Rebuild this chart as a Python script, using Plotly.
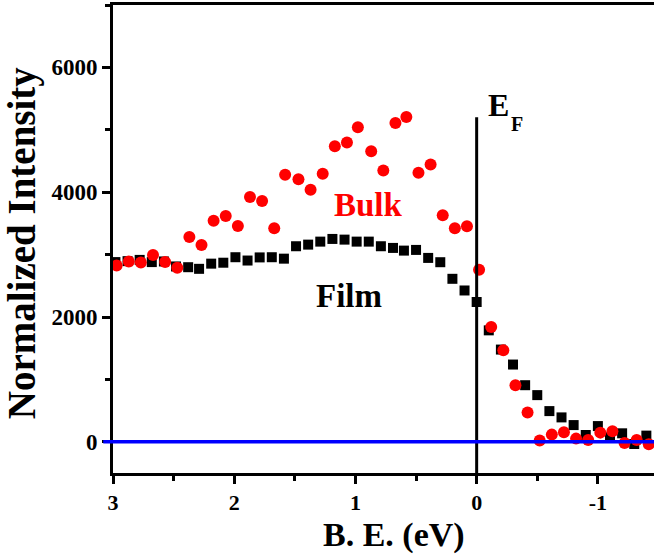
import plotly.graph_objects as go

# ---- data ----
film_x = [2.98, 2.88, 2.78, 2.68, 2.58, 2.48, 2.38, 2.29, 2.19, 2.09,
          1.99, 1.89, 1.79, 1.69, 1.59, 1.49, 1.39, 1.29, 1.19, 1.09,
          0.99, 0.89, 0.79, 0.69, 0.60, 0.50, 0.40, 0.30, 0.20, 0.10,
          0.00, -0.10, -0.20, -0.30, -0.40, -0.50, -0.60, -0.70, -0.80, -0.90,
          -1.00, -1.10, -1.20, -1.30, -1.40]
film_y = [2880, 2895, 2915, 2880, 2890, 2810, 2798, 2772, 2855, 2870,
          2958, 2905, 2955, 2958, 2935, 3134, 3160, 3208, 3251, 3240,
          3208, 3208, 3134, 3107, 3064, 3075, 2947, 2878, 2612, 2425,
          2240, 1786, 1478, 1238, 907, 748, 492, 391, 268, 109,
          252, 72, 136, -35, 99]

bulk_x = [2.97, 2.87, 2.77, 2.67, 2.57, 2.47, 2.37, 2.27, 2.17, 2.07,
          1.97, 1.87, 1.77, 1.67, 1.58, 1.47, 1.37, 1.27, 1.17, 1.07,
          0.98, 0.87, 0.77, 0.67, 0.58, 0.48, 0.38, 0.28, 0.18, 0.08,
          -0.02, -0.12, -0.22, -0.32, -0.42, -0.52, -0.62, -0.72, -0.82, -0.92,
          -1.02, -1.12, -1.22, -1.32, -1.42]
bulk_y = [2824, 2888, 2872, 2995, 2883, 2788, 3283, 3155, 3543, 3618,
          3458, 3922, 3858, 3422, 4280, 4209, 4039, 4294, 4736, 4795,
          5040, 4657, 4348, 5109, 5204, 4310, 4444, 3629, 3422, 3454,
          2756, 1840, 1466, 907, 471, 19, 115, 152, 51, 29,
          147, 168, -19, 29, -40]

x_ticks = [3, 2, 1, 0, -1]
y_ticks = [0, 2000, 4000, 6000]
ef_top = 5200

FONT = "Liberation Serif"

fig = go.Figure()
fig.add_trace(go.Scatter(x=film_x, y=film_y, mode="markers", name="Film",
                         marker=dict(symbol="square", size=10, color="black"),
                         cliponaxis=False))
fig.add_trace(go.Scatter(x=bulk_x, y=bulk_y, mode="markers", name="Bulk",
                         marker=dict(symbol="circle", size=12, color="#ff0000"),
                         cliponaxis=False))

# Fermi level line and zero line
fig.add_shape(type="line", x0=0, x1=0, y0=-500, y1=ef_top, xref="x", yref="y",
              line=dict(color="black", width=3))
fig.add_shape(type="line", x0=-0.018, x1=1, y0=0, y1=0, xref="paper", yref="y",
              line=dict(color="#0000ff", width=3.5))

ann = []
ann.append(dict(x=0.89, y=3800, xref="x", yref="y", text="Bulk", showarrow=False,
                font=dict(family=FONT, size=33, color="#ff0000", weight="bold")))
ann.append(dict(x=1.055, y=2330, xref="x", yref="y", text="Film", showarrow=False,
                font=dict(family=FONT, size=33, color="black", weight="bold")))
ann.append(dict(x=-0.18, y=5400, xref="x", yref="y", text="E", showarrow=False,
                font=dict(family=FONT, size=32, color="black", weight="bold")))
ann.append(dict(x=-0.336, y=5090, xref="x", yref="y", text="F", showarrow=False,
                font=dict(family=FONT, size=20, color="black", weight="bold")))
ann.append(dict(x=0.52, y=0, xref="paper", yref="paper", yshift=-62, text="B. E. (eV)",
                showarrow=False, yanchor="middle",
                font=dict(family=FONT, size=34, color="black", weight="bold")))
ann.append(dict(x=0, y=0.491, xref="paper", yref="paper", xshift=-91,
                text="Normalized Intensity", textangle=-90, showarrow=False,
                xanchor="center", yanchor="middle",
                font=dict(family=FONT, size=39, color="black", weight="bold")))

fig.update_layout(
    width=654, height=555,
    margin=dict(l=113, r=0, t=5, b=82),
    paper_bgcolor="white", plot_bgcolor="white",
    showlegend=False,
    annotations=ann,
    xaxis=dict(range=[3, -1.463], tickvals=x_ticks, ticktext=[str(v) for v in x_ticks],
               ticks="outside", ticklen=8, tickwidth=3, tickcolor="black",
               showline=True, linewidth=3, linecolor="black", mirror=True,
               showgrid=False, zeroline=False,
               minor=dict(dtick=0.5, tick0=0, ticks="outside", ticklen=5,
                          tickwidth=3, tickcolor="black", showgrid=False),
               tickfont=dict(family=FONT, size=22, color="black", weight="bold")),
    yaxis=dict(range=[-500, 7000], tickvals=y_ticks, ticktext=[str(v) for v in y_ticks],
               ticks="outside", ticklen=8, tickwidth=3, tickcolor="black",
               showline=True, linewidth=3, linecolor="black", mirror=False,
               showgrid=False, zeroline=False,
               minor=dict(dtick=1000, tick0=0, ticks="outside", ticklen=5,
                          tickwidth=3, tickcolor="black", showgrid=False),
               tickfont=dict(family=FONT, size=23, color="black", weight="bold")),
)

fig.write_html("out.html", config={"displayModeBar": False},
               post_script="document.body.style.margin='0';document.body.style.padding='0';")
